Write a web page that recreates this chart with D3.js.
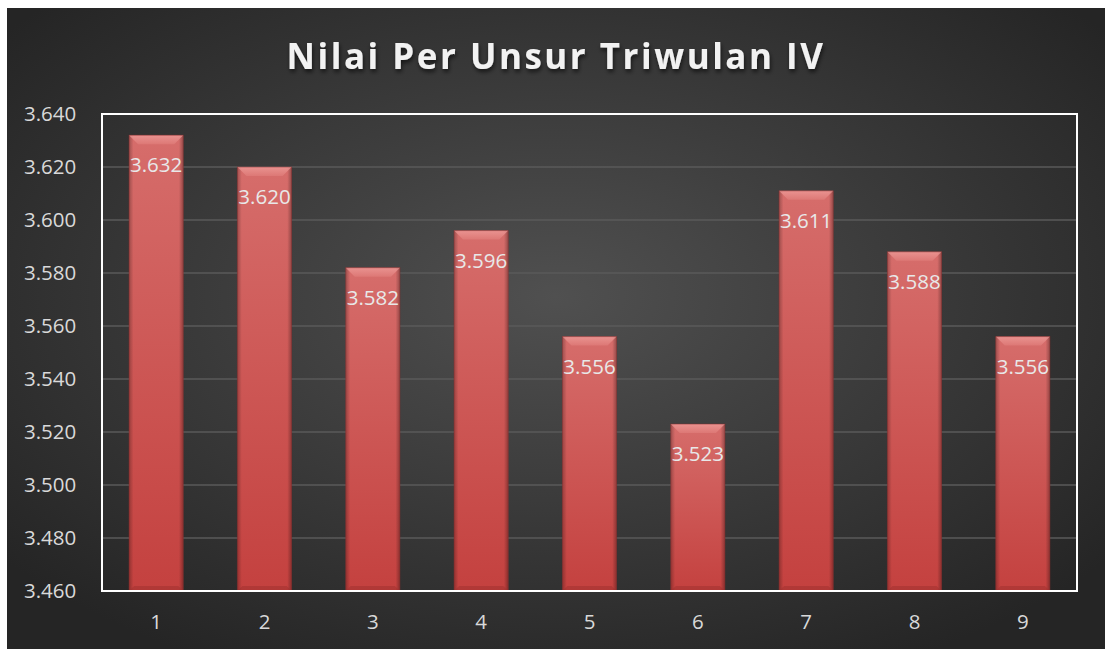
<!DOCTYPE html>
<html>
<head>
<meta charset="utf-8">
<script src="https://cdn.jsdelivr.net/npm/d3@7"></script>
<style>
  body { margin: 0; background: #fff; }
  svg text { font-family: "Open Sans", "Noto Sans", sans-serif; }
</style>
</head>
<body>
<div id="chart"></div>
<script>
// data
var categories = ["1", "2", "3", "4", "5", "6", "7", "8", "9"];
var values = [3.632, 3.620, 3.582, 3.596, 3.556, 3.523, 3.611, 3.588, 3.556];
var yTicks = [3.460, 3.480, 3.500, 3.520, 3.540, 3.560, 3.580, 3.600, 3.620, 3.640];
var title = "Nilai Per Unsur Triwulan IV";

var W = 1105, H = 649;
var margin = {top: 114, right: 28, bottom: 58, left: 102};
var width = W - margin.left - margin.right,
    height = H - margin.top - margin.bottom;

var svg = d3.select("#chart").append("svg")
  .attr("width", W)
  .attr("height", H);

var defs = svg.append("defs");

var bg = defs.append("radialGradient")
  .attr("id", "bgGrad")
  .attr("cx", "50%").attr("cy", "45%").attr("r", "65%");
bg.append("stop").attr("offset", "0%").attr("stop-color", "#505050");
bg.append("stop").attr("offset", "100%").attr("stop-color", "#252525");

var barGrad = defs.append("linearGradient")
  .attr("id", "barGrad")
  .attr("x1", 0).attr("y1", 0).attr("x2", 0).attr("y2", 1);
barGrad.append("stop").attr("offset", "0%").attr("stop-color", "#d66d6b");
barGrad.append("stop").attr("offset", "100%").attr("stop-color", "#c4413f");

var sideGrad = defs.append("linearGradient")
  .attr("id", "sideGrad")
  .attr("x1", 0).attr("y1", 0).attr("x2", 1).attr("y2", 0);
sideGrad.append("stop").attr("offset", "0%").attr("stop-color", "#000").attr("stop-opacity", 0.25);
sideGrad.append("stop").attr("offset", "8%").attr("stop-color", "#000").attr("stop-opacity", 0);
sideGrad.append("stop").attr("offset", "92%").attr("stop-color", "#000").attr("stop-opacity", 0);
sideGrad.append("stop").attr("offset", "100%").attr("stop-color", "#000").attr("stop-opacity", 0.3);

var bevelGrad = defs.append("linearGradient")
  .attr("id", "bevelGrad")
  .attr("x1", 0).attr("y1", 0).attr("x2", 0).attr("y2", 1);
bevelGrad.append("stop").attr("offset", "0%").attr("stop-color", "#f2a3a0");
bevelGrad.append("stop").attr("offset", "100%").attr("stop-color", "#e07d7a");

var shadow = defs.append("filter").attr("id", "txtShadow")
  .attr("x", "-5%").attr("y", "-20%").attr("width", "110%").attr("height", "150%");
shadow.append("feDropShadow")
  .attr("dx", 1).attr("dy", 3).attr("stdDeviation", 2)
  .attr("flood-color", "#000").attr("flood-opacity", 0.6);

// background
svg.append("rect")
  .attr("x", 7).attr("y", 8)
  .attr("width", W - 7).attr("height", H - 8)
  .attr("fill", "url(#bgGrad)");

// title
svg.append("text")
  .attr("x", 556).attr("y", 69)
  .attr("text-anchor", "middle")
  .attr("fill", "#f2f2f2")
  .attr("font-size", 35)
  .attr("font-weight", "bold")
  .attr("letter-spacing", 2.5)
  .attr("filter", "url(#txtShadow)")
  .text(title);

var g = svg.append("g")
  .attr("transform", "translate(" + margin.left + "," + margin.top + ")");

var x = d3.scaleBand()
  .domain(categories)
  .range([0, width])
  .paddingInner(0.5)
  .paddingOuter(0.25);

var y = d3.scaleLinear()
  .domain([3.460, 3.640])
  .range([height, 0]);

// gridlines
g.append("g")
  .selectAll("line")
  .data(yTicks.slice(1, -1))
  .enter().append("line")
  .attr("x1", 0).attr("x2", width)
  .attr("y1", function(d) { return y(d); })
  .attr("y2", function(d) { return y(d); })
  .attr("stroke", "#5a5a5a")
  .attr("stroke-width", 1.5);

// y axis
var yAxis = g.append("g")
  .call(d3.axisLeft(y).tickValues(yTicks).tickSize(0)
    .tickFormat(function(d) { return d3.format(".3f")(d); }));
yAxis.select(".domain").remove();
yAxis.selectAll("text")
  .attr("fill", "#d9d9d9")
  .attr("font-size", 20.5)
  .attr("text-anchor", "start")
  .attr("x", -margin.left + 24);

// x axis
var xAxis = g.append("g")
  .attr("transform", "translate(0," + height + ")")
  .call(d3.axisBottom(x).tickSize(0).tickPadding(23));
xAxis.select(".domain").remove();
xAxis.selectAll("text")
  .attr("fill", "#d9d9d9")
  .attr("font-size", 20.5);

// bars
var bars = g.selectAll(".bar")
  .data(values)
  .enter().append("g")
  .attr("class", "bar");

bars.append("rect")
  .attr("x", function(d, i) { return x(categories[i]); })
  .attr("y", function(d) { return y(d); })
  .attr("width", x.bandwidth())
  .attr("height", function(d) { return height - y(d); })
  .attr("fill", "url(#barGrad)");

bars.append("rect")
  .attr("x", function(d, i) { return x(categories[i]); })
  .attr("y", function(d) { return y(d); })
  .attr("width", x.bandwidth())
  .attr("height", function(d) { return height - y(d); })
  .attr("fill", "url(#sideGrad)");

// top bevel
bars.append("path")
  .attr("d", function(d, i) {
    var x0 = x(categories[i]), x1 = x0 + x.bandwidth(), y0 = y(d), b = 9;
    return "M" + x0 + "," + y0 + "L" + x1 + "," + y0 +
      "L" + (x1 - b) + "," + (y0 + b) + "L" + (x0 + b) + "," + (y0 + b) + "Z";
  })
  .attr("fill", "url(#bevelGrad)")
  .attr("opacity", 0.7);

// bottom bevel
bars.append("path")
  .attr("d", function(d, i) {
    var x0 = x(categories[i]), x1 = x0 + x.bandwidth(), y0 = height, b = 5;
    return "M" + x0 + "," + y0 + "L" + x1 + "," + y0 +
      "L" + (x1 - b) + "," + (y0 - b) + "L" + (x0 + b) + "," + (y0 - b) + "Z";
  })
  .attr("fill", "#9e2f2e")
  .attr("opacity", 0.5);

bars.append("rect")
  .attr("x", function(d, i) { return x(categories[i]); })
  .attr("y", function(d) { return y(d); })
  .attr("width", x.bandwidth())
  .attr("height", function(d) { return height - y(d); })
  .attr("fill", "none")
  .attr("stroke", "#8a2e2d")
  .attr("stroke-opacity", 0.5)
  .attr("stroke-width", 1);

// data labels
bars.append("text")
  .attr("x", function(d, i) { return x(categories[i]) + x.bandwidth() / 2; })
  .attr("y", function(d) { return y(d) + 37; })
  .attr("text-anchor", "middle")
  .attr("fill", "#e8e8e8")
  .attr("font-size", 20.5)
  .text(function(d) { return d3.format(".3f")(d); });

// plot area border
g.append("rect")
  .attr("x", 0).attr("y", 0)
  .attr("width", width).attr("height", height)
  .attr("fill", "none")
  .attr("stroke", "#ffffff")
  .attr("stroke-width", 2);
</script>
</body>
</html>
